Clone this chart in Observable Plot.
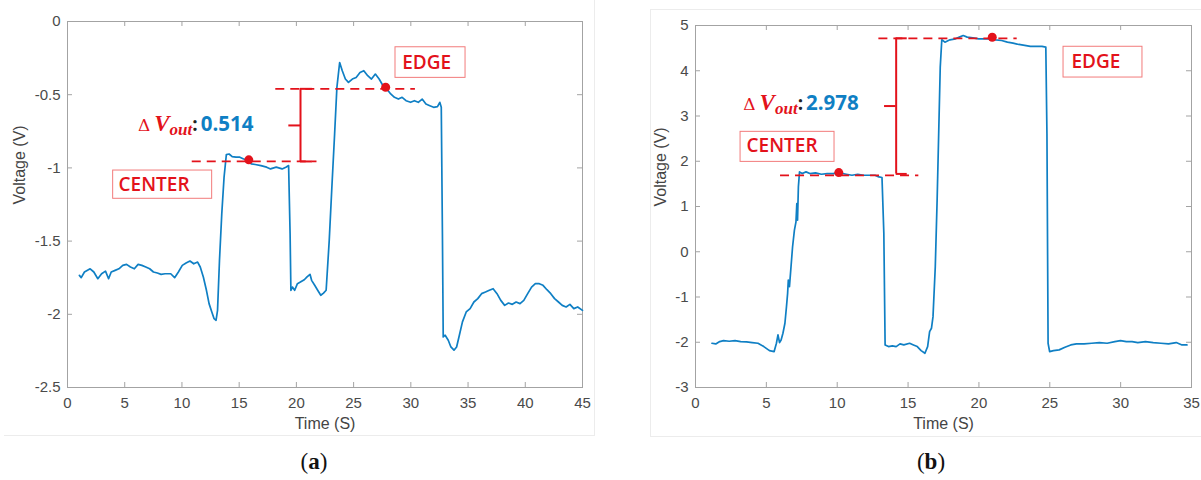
<!DOCTYPE html>
<html><head><meta charset="utf-8">
<script src="https://cdn.jsdelivr.net/npm/d3@7"></script>
<script src="https://cdn.jsdelivr.net/npm/@observablehq/plot@0.6"></script>
<style>
body{margin:0;background:#fff;}
#fig{position:relative;width:1201px;height:480px;overflow:hidden;background:#fff;font-family:"Liberation Sans",Arial,sans-serif;}
.panel{position:absolute;top:0;}
.cap{position:absolute;top:449px;font-family:"Liberation Serif","DejaVu Serif",serif;font-size:23px;color:#111;transform:translateX(-50%);line-height:26px;}
.border{position:absolute;border:0 solid #ececec;}
</style></head><body>
<div id="fig">
  <div class="border" style="left:4px;top:-2px;width:590px;height:437px;border-right-width:1px;border-bottom-width:1px;"></div>
  <div class="border" style="left:650px;top:9px;width:560px;height:426px;border-left-width:1px;border-top-width:1px;border-bottom-width:1px;"></div>
  <div id="pa" class="panel" style="left:0px;"></div>
  <div id="pb" class="panel" style="left:600px;"></div>
  <div class="cap" style="left:314px;">(<b>a</b>)</div>
  <div class="cap" style="left:931px;">(<b>b</b>)</div>
</div>
<script>
// ---------- Panel (a) data ----------
const aTime = [1.04,1.2,1.48,1.98,2.3,2.65,2.98,3.32,3.59,3.82,4.16,4.49,4.83,5.16,5.5,5.84,6.17,6.5,6.84,7.18,7.51,7.85,8.18,8.52,9.02,9.36,9.69,10.03,10.36,10.7,11.03,11.37,11.6,11.87,12.14,12.37,12.61,12.81,12.98,13.11,13.28,13.48,13.68,13.88,14.12,14.39,14.72,15.06,15.39,15.73,16.06,16.4,16.9,17.4,17.74,18.24,18.75,19.08,19.32,19.45,19.52,19.65,19.85,20.09,20.35,20.69,20.93,21.19,21.33,21.6,21.86,22.13,22.37,22.6,22.87,23.1,23.34,23.54,23.78,24.01,24.28,24.55,24.89,25.22,25.56,25.89,26.23,26.56,26.9,27.23,27.57,27.9,28.24,28.57,28.91,29.24,29.58,29.98,30.31,30.65,30.99,31.32,31.66,31.99,32.33,32.53,32.66,32.76,32.83,33.0,33.27,33.5,33.77,34.0,34.24,34.51,34.84,35.18,35.51,35.85,36.18,36.52,36.86,37.19,37.53,37.86,38.2,38.53,38.87,39.2,39.54,39.87,40.21,40.55,40.88,41.22,41.55,41.89,42.23,42.56,42.9,43.23,43.57,43.9,44.24,44.58,45.0];
const aVolt = [-1.734,-1.75,-1.711,-1.689,-1.711,-1.757,-1.723,-1.705,-1.757,-1.711,-1.7,-1.689,-1.666,-1.659,-1.677,-1.689,-1.659,-1.666,-1.677,-1.689,-1.711,-1.718,-1.727,-1.723,-1.723,-1.75,-1.711,-1.666,-1.65,-1.636,-1.655,-1.643,-1.677,-1.745,-1.836,-1.927,-1.984,-2.03,-2.041,-1.973,-1.632,-1.314,-1.064,-0.909,-0.905,-0.923,-0.927,-0.927,-0.939,-0.945,-0.973,-0.977,-0.984,-0.995,-1.007,-0.995,-1.007,-0.995,-0.984,-1.45,-1.836,-1.814,-1.836,-1.791,-1.78,-1.764,-1.745,-1.727,-1.768,-1.802,-1.836,-1.87,-1.855,-1.836,-1.495,-1.132,-0.768,-0.45,-0.28,-0.336,-0.393,-0.416,-0.393,-0.382,-0.348,-0.336,-0.37,-0.393,-0.359,-0.393,-0.439,-0.461,-0.495,-0.518,-0.53,-0.518,-0.541,-0.552,-0.541,-0.552,-0.53,-0.564,-0.575,-0.586,-0.582,-0.552,-0.586,-1.45,-2.155,-2.143,-2.177,-2.223,-2.245,-2.223,-2.143,-2.052,-1.984,-1.961,-1.916,-1.893,-1.859,-1.848,-1.836,-1.825,-1.859,-1.905,-1.939,-1.923,-1.932,-1.916,-1.927,-1.905,-1.859,-1.814,-1.791,-1.791,-1.802,-1.832,-1.859,-1.893,-1.916,-1.939,-1.95,-1.932,-1.961,-1.95,-1.973];
const aXTicks = [0,5,10,15,20,25,30,35,40,45];
const aYTicks = [0,-0.5,-1,-1.5,-2,-2.5];
const aLevels = [{y:-0.956,x1:10.9,x2:21.8},{y:-0.46,x1:18.2,x2:30.4}];
const aPoints = [{x:15.84,y:-0.945},{x:27.8,y:-0.449}];
const aBrace = {x:20.36,top:-0.46,bottom:-0.956,mid:-0.71,left:19.34,right:21.4};
const aBoxes = [{text:"EDGE",x1:28.66,x2:34.78,y1:-0.176,y2:-0.385,tx:29.25,ty:-0.28},
                {text:"CENTER",x1:3.99,x2:12.64,y1:-1.018,y2:-1.211,tx:4.46,ty:-1.113}];
const aDelta = {x:6.2,y:-0.749,value:"0.514"};

// ---------- Panel (b) data ----------
const bTime = [1.16,1.43,1.71,1.98,2.38,2.79,3.19,3.6,4.0,4.41,4.82,5.22,5.55,5.71,5.82,5.93,6.04,6.17,6.31,6.42,6.5,6.55,6.63,6.74,6.85,6.98,7.09,7.15,7.2,7.26,7.34,7.53,7.8,8.07,8.47,8.88,9.29,9.69,10.15,10.64,11.04,11.45,11.86,12.26,12.67,12.94,13.16,13.29,13.38,13.62,13.89,14.16,14.43,14.7,15.11,15.38,15.65,15.92,16.19,16.38,16.52,16.65,16.76,16.92,17.05,17.16,17.27,17.38,17.6,17.95,18.35,18.62,18.89,19.17,19.57,19.98,20.38,20.79,21.2,21.6,22.01,22.41,22.82,23.23,23.63,24.04,24.45,24.72,24.8,24.88,24.99,25.26,25.66,26.07,26.48,26.88,27.42,27.96,28.5,29.05,29.59,29.99,30.4,30.81,31.21,31.75,32.3,32.84,33.38,33.92,34.33,34.68];
const bVolt = [-2.022,-2.037,-1.985,-1.963,-1.978,-1.963,-1.985,-1.993,-2.007,-2.022,-2.096,-2.184,-2.206,-2.022,-1.838,-2.007,-1.949,-1.801,-1.581,-1.213,-0.919,-0.625,-0.772,-0.331,0.11,0.478,0.662,1.066,0.699,1.434,1.765,1.728,1.765,1.728,1.743,1.713,1.728,1.728,1.743,1.713,1.691,1.713,1.691,1.691,1.691,1.654,1.64,0.404,-2.059,-2.096,-2.081,-2.096,-2.037,-2.059,-2.022,-2.059,-2.096,-2.184,-2.243,-2.096,-1.765,-1.691,-1.434,-0.331,1.14,2.61,4.081,4.684,4.632,4.684,4.706,4.743,4.779,4.743,4.728,4.706,4.706,4.706,4.684,4.669,4.632,4.61,4.581,4.559,4.537,4.537,4.537,4.522,2.61,-2.022,-2.206,-2.184,-2.169,-2.11,-2.059,-2.037,-2.037,-2.022,-2.007,-2.022,-1.985,-1.963,-1.985,-1.985,-2.007,-1.985,-2.007,-2.022,-2.037,-2.007,-2.059,-2.059];
const bXTicks = [0,5,10,15,20,25,30,35];
const bYTicks = [5,4,3,2,1,0,-1,-2,-3];
const bLevels = [{y:1.69,x1:6.0,x2:15.76},{y:4.717,x1:12.94,x2:22.7}];
const bPoints = [{x:10.11,y:1.75},{x:20.94,y:4.74}];
const bBrace = {x:14.16,top:4.717,bottom:1.72,mid:3.22,left:13.34,right:14.94};
const bBoxes = [{text:"EDGE",x1:25.97,x2:31.54,y1:4.53,y2:3.85,tx:26.53,ty:4.19},
                {text:"CENTER",x1:3.18,x2:9.81,y1:2.65,y2:1.986,tx:3.6,ty:2.33}];
const bDelta = {x:3.41,y:3.115,value:"2.978"};

const RED = "#e3121b", BLUE = "#0f7fc4", AXIS = "#a3a3a3", TXT = "#4a4a4a";

function panel(cfg) {
  const plotH = cfg.height - cfg.marginTop - cfg.marginBottom;
  const plotW = cfg.width - cfg.marginLeft - cfg.marginRight;
  const series = cfg.time.map((t, i) => ({t, v: cfg.volt[i]}));
  const b = cfg.brace;
  const chart = Plot.plot({
    width: cfg.width, height: cfg.height,
    marginLeft: cfg.marginLeft, marginRight: cfg.marginRight,
    marginTop: cfg.marginTop, marginBottom: cfg.marginBottom,
    x: {domain: cfg.xDomain},
    y: {domain: cfg.yDomain},
    style: {fontFamily: "'Liberation Sans', Arial, sans-serif", fontSize: "15px", background: "transparent", overflow: "visible"},
    marks: [
      Plot.rect(cfg.boxes, {x1: "x1", x2: "x2", y1: "y1", y2: "y2", fill: "white", stroke: "#f27b7b", strokeWidth: 1}),
      Plot.text(cfg.boxes, {x: "tx", y: "ty", text: "text", textAnchor: "start", fill: RED, fontSize: 19, fontWeight: 600, fontFamily: "'Open Sans', sans-serif"}),
      Plot.frame({stroke: AXIS, strokeWidth: 1}),
      Plot.tickX(cfg.xTicks, {x: d => d, stroke: AXIS, insetTop: plotH - 5}),
      Plot.tickX(cfg.xTicks, {x: d => d, stroke: AXIS, insetBottom: plotH - 5}),
      Plot.tickY(cfg.yTicks, {y: d => d, stroke: AXIS, insetRight: plotW - 5}),
      Plot.tickY(cfg.yTicks, {y: d => d, stroke: AXIS, insetLeft: plotW - 5}),
      Plot.axisX({ticks: cfg.xTicks, tickSize: 0, tickPadding: 10, tickFormat: d => String(d), label: null, fill: TXT, fontSize: 15}),
      Plot.axisY({ticks: cfg.yTicks, tickSize: 0, tickPadding: 7, tickFormat: d => String(d), label: null, fill: TXT, fontSize: 15}),
      Plot.text(["Voltage (V)"], {text: d => d, frameAnchor: "left", rotate: -90, dx: cfg.yLabelDx, fontSize: 16, fill: "#444", lineAnchor: "middle"}),
      Plot.text(["Time (S)"], {text: d => d, frameAnchor: "bottom", dy: 36, fontSize: 16, fill: "#444", lineAnchor: "middle"}),
      Plot.line(series, {x: "t", y: "v", stroke: BLUE, strokeWidth: 1.7, strokeLinejoin: "round"}),
      Plot.ruleY(cfg.levels, {y: "y", x1: "x1", x2: "x2", stroke: RED, strokeWidth: 1.8, strokeDasharray: "9,6"}),
      Plot.ruleX([b], {x: "x", y1: "top", y2: "bottom", stroke: RED, strokeWidth: 2}),
      Plot.ruleY([{y: b.top, x1: b.x, x2: b.right}, {y: b.bottom, x1: b.x, x2: b.right}, {y: b.mid, x1: b.left, x2: b.x}],
                 {y: "y", x1: "x1", x2: "x2", stroke: RED, strokeWidth: 2}),
      Plot.dot(cfg.points, {x: "x", y: "y", r: 4.5, fill: RED})
    ]
  });
  const sx = chart.scale("x"), sy = chart.scale("y");
  const t = d3.select(chart).append("text")
    .attr("text-anchor", "start")
    .attr("x", sx.apply(cfg.delta.x)).attr("y", sy.apply(cfg.delta.y));
  t.append("tspan").attr("fill", RED).attr("font-family", "'DejaVu Serif', serif").attr("font-size", 17).text("Δ");
  t.append("tspan").attr("dx", 4).attr("fill", RED).attr("font-family", "'Liberation Serif', serif")
    .attr("font-style", "italic").attr("font-weight", "bold").attr("font-size", 23).text("V");
  t.append("tspan").attr("dy", 4).attr("fill", RED).attr("font-family", "'Liberation Serif', serif")
    .attr("font-style", "italic").attr("font-weight", "bold").attr("font-size", 17).text("out");
  t.append("tspan").attr("dy", -4).attr("fill", "#222").attr("font-family", "'Open Sans', sans-serif")
    .attr("font-weight", "bold").attr("font-size", 19).text(":");
  t.append("tspan").attr("dx", 3).attr("fill", BLUE).attr("font-family", "'Open Sans', sans-serif")
    .attr("font-weight", "bold").attr("font-size", 20.5).text(cfg.delta.value);
  return chart;
}

document.getElementById("pa").append(panel({
  width: 600, height: 440, marginLeft: 67, marginRight: 18, marginTop: 21, marginBottom: 53,
  xDomain: [0, 45], yDomain: [-2.5, 0], time: aTime, volt: aVolt,
  xTicks: aXTicks, yTicks: aYTicks, levels: aLevels, points: aPoints, brace: aBrace,
  boxes: aBoxes, delta: aDelta, yLabelDx: -48
}));
document.getElementById("pb").append(panel({
  width: 601, height: 440, marginLeft: 95, marginRight: 10, marginTop: 25, marginBottom: 53,
  xDomain: [0, 35], yDomain: [-3, 5], time: bTime, volt: bVolt,
  xTicks: bXTicks, yTicks: bYTicks, levels: bLevels, points: bPoints, brace: bBrace,
  boxes: bBoxes, delta: bDelta, yLabelDx: -35
}));
</script>
</body></html>
